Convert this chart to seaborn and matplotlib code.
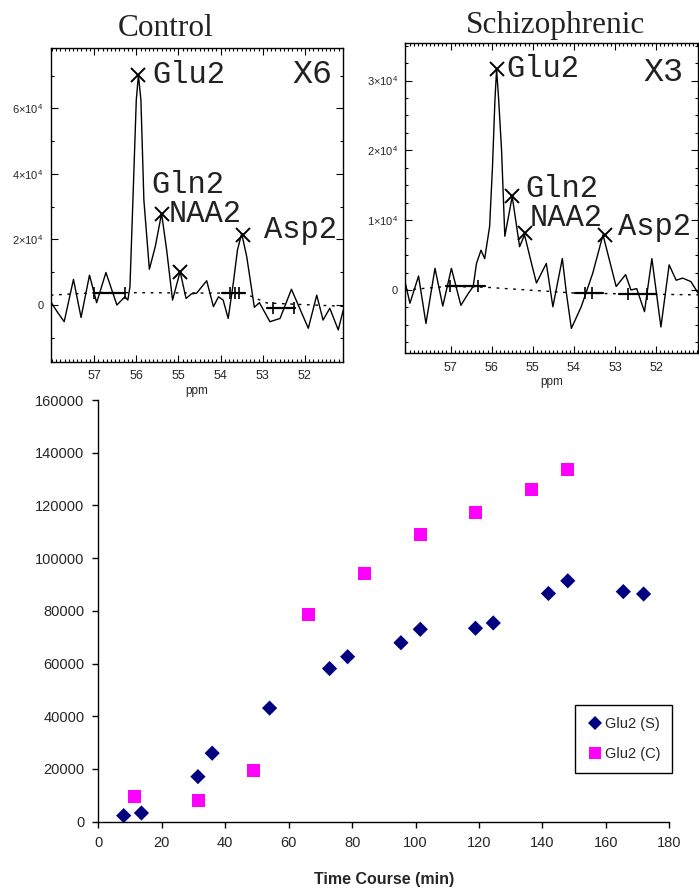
import numpy as np
import pandas as pd
import matplotlib
matplotlib.use("Agg")
import matplotlib.pyplot as plt
import seaborn as sns
from matplotlib.ticker import MultipleLocator

# ── Time course of Glu2 ──
time_s = [8.0, 13.6, 31.4, 35.9, 54.0, 72.9, 78.6, 95.4, 101.5, 118.9, 124.5, 141.9, 148.0, 165.5, 171.9]
glu2_s = [2300, 3300, 17100, 26000, 43100, 58100, 62600, 67900, 73000, 73400, 75400, 86600, 91400, 87300, 86400]
time_c = [11.5, 31.5, 49.0, 66.4, 84.0, 101.5, 119.0, 136.5, 148.0]
glu2_c = [9600, 7900, 19600, 78700, 94100, 108900, 117400, 126200, 133700]

# ── Control spectrum (traced) ──
ppm_ctrl = [58.03, 57.88, 57.71, 57.49, 57.31, 57.11, 56.94, 56.72, 56.46, 56.27, 56.20, 56.15,
            56.08, 56.00, 55.95, 55.89, 55.82, 55.69, 55.55, 55.40, 55.28, 55.14, 54.96, 54.82,
            54.69, 54.57, 54.33, 54.17, 54.05, 53.94, 53.82, 53.70, 53.60, 53.50, 53.38, 53.20,
            53.08, 52.83, 52.59, 52.32, 51.92, 51.72, 51.57, 51.41, 51.21, 51.09]
int_ctrl = [1000, -2000, -5100, 7800, -3800, 9100, 700, 9900, 0, 2500, 1500, 5600,
            32000, 62500, 70100, 62500, 32000, 10900, 17800, 27900, 16800, 1500, 10200, 2000,
            3400, 3600, 7400, -500, 2500, 1500, -4100, 6600, 16800, 21800, 14700, -700,
            700, -5100, -4100, 4800, -7100, 3000, -4600, -1000, -7600, -1500]
ctrl_peak_ppm = [55.95, 55.40, 54.96, 53.48]
ctrl_peak_int = [70100, 27900, 10200, 21500]
ctrl_base_ppm = [58.03, 56.9, 53.45, 52.9, 51.09]
ctrl_base_int = [3000, 3800, 3600, 600, -400]
ctrl_bar_from = [57.0, 53.97, 52.91]
ctrl_bar_to = [56.27, 53.42, 52.24]
ctrl_bar_lvl = [3800, 3600, -1000]
ctrl_bar_ticks = [[57.0, 56.27], [53.78, 53.66, 53.56], [52.75, 52.26]]

# ── Schizophrenic spectrum (traced) ──
ppm_schz = [58.11, 57.99, 57.78, 57.60, 57.38, 57.19, 56.98, 56.75, 56.57, 56.45, 56.37, 56.26,
            56.17, 56.05, 55.98, 55.92, 55.88, 55.83, 55.76, 55.68, 55.50, 55.32, 55.20, 55.03,
            54.91, 54.67, 54.51, 54.28, 54.18, 54.06, 53.82, 53.54, 53.29, 52.97, 52.74, 52.61,
            52.47, 52.28, 52.10, 51.88, 51.68, 51.51, 51.35, 51.15, 50.97]
int_schz = [1200, -1900, 2000, -4800, 3100, -2300, 3100, -2200, -500, 500, 3800, 5700,
            4500, 9100, 17700, 27300, 31600, 27300, 20100, 7700, 13400, 6200, 7900, 3800,
            1000, 3800, -2400, 4500, -500, -5500, -2400, 2400, 7900, 500, 2200, 0,
            200, -3100, 4500, -5300, 3600, 1400, 1700, 1200, -500]
schz_peak_ppm = [55.88, 55.50, 55.20, 53.25]
schz_peak_int = [31600, 13400, 8100, 7900]
schz_base_ppm = [58.11, 57.1, 56.17, 53.96, 50.97]
schz_base_int = [0, 500, 400, -450, -700]
schz_bar_from = [57.10, 53.96, 52.91]
schz_bar_to = [56.17, 53.29, 52.00]
schz_bar_lvl = [500, -400, -600]
schz_bar_ticks = [[57.02, 56.33], [53.74, 53.56], [52.69, 52.22]]

sns.set_theme(style="white")
plt.rcParams["font.family"] = ["Liberation Sans", "DejaVu Sans"]
plt.rcParams["mathtext.fontset"] = "custom"
plt.rcParams["mathtext.rm"] = "Liberation Sans"
plt.rcParams["mathtext.it"] = "Liberation Sans:italic"

fig = plt.figure(figsize=(6.99, 8.90), dpi=100)
W, H = 699, 890


def px_axes(x0, y0, x1, y1):
    return fig.add_axes([x0 / W, 1 - y1 / H, (x1 - x0) / W, (y1 - y0) / H])


def spectrum(ax, ppm, inten, xlim, ylim, yticks, ylabels, yminor,
             base_ppm, base_int, bar_from, bar_to, bar_lvl, bar_ticks,
             peak_ppm, peak_int):
    sns.lineplot(x=ppm, y=inten, ax=ax, color="black", lw=1.0, estimator=None)
    ax.plot(base_ppm, base_int, color="black", lw=1.0, ls=(0, (2, 4)))
    for a, b, lv, tk in zip(bar_from, bar_to, bar_lvl, bar_ticks):
        ax.plot([a, b], [lv, lv], color="black", lw=1.6)
        ax.plot(tk, [lv] * len(tk), ls="none", marker="|", ms=9, mew=1.2, color="black")
    ax.plot(peak_ppm, peak_int, ls="none", marker="x", ms=10, mew=1.4, color="black")
    ax.set_xlim(*xlim)
    ax.set_ylim(*ylim)
    ax.set_xticks([57, 56, 55, 54, 53, 52])
    ax.xaxis.set_minor_locator(MultipleLocator(0.1))
    ax.set_yticks(yticks)
    ax.set_yticklabels(ylabels)
    ax.yaxis.set_minor_locator(MultipleLocator(yminor))
    ax.tick_params(which="both", direction="in", top=True, right=True,
                   bottom=True, left=True, color="black", width=0.8)
    ax.tick_params(which="major", length=5, labelsize=9, pad=6)
    ax.tick_params(which="minor", length=2.5)
    ax.tick_params(axis="y", labelsize=8, pad=5)
    for s in ax.spines.values():
        s.set_visible(True)
        s.set_color("black")
        s.set_linewidth(1.0)
    ax.set_xlabel("ppm", fontsize=8.5, labelpad=2)
    ax.set_ylabel("")


mono = ["Liberation Mono", "DejaVu Sans Mono"]
serif = ["Liberation Serif", "DejaVu Serif"]

# ── Control panel ──
ax1 = px_axes(50.7, 48.3, 343.3, 361.7)
spectrum(ax1, ppm_ctrl, int_ctrl, (58.03, 51.09), (-17300, 78300),
         [0, 20000, 40000, 60000],
         ["0", r"$2{\times}10^4$", r"$4{\times}10^4$", r"$6{\times}10^4$"], 10000,
         ctrl_base_ppm, ctrl_base_int, ctrl_bar_from, ctrl_bar_to, ctrl_bar_lvl,
         ctrl_bar_ticks, ctrl_peak_ppm, ctrl_peak_int)
ctrl_offsets = {"Glu2": (0, 14, 0), "Gln2": (1, -10, 29), "NAA2": (1, 7, 0), "Asp2": (3, 21, 5)}
for name, (i, dx, dy) in ctrl_offsets.items():
    ax1.annotate(name, (ctrl_peak_ppm[i], ctrl_peak_int[i]), xytext=(dx, dy),
                 textcoords="offset pixels", ha="left", va="center",
                 fontsize=22, family=mono, color="#222222")
ax1.text(0.962, 0.915, "X6", transform=ax1.transAxes, ha="right", va="center",
         fontsize=24, family=mono, color="#222222")
fig.text(165.7 / W, 1 - 28 / H, "Control", ha="center", va="center",
         fontsize=22.5, family=serif, color="#222222")

# ── Schizophrenic panel ──
ax2 = px_axes(405, 43.3, 698.3, 353.3)
spectrum(ax2, ppm_schz, int_schz, (58.11, 50.97), (-9070, 35340),
         [0, 10000, 20000, 30000],
         ["0", r"$1{\times}10^4$", r"$2{\times}10^4$", r"$3{\times}10^4$"], 2500,
         schz_base_ppm, schz_base_int, schz_bar_from, schz_bar_to, schz_bar_lvl,
         schz_bar_ticks, schz_peak_ppm, schz_peak_int)
schz_offsets = {"Glu2": (0, 10, 0), "Gln2": (1, 13, 7), "NAA2": (2, 5, 15), "Asp2": (3, 13, 8)}
for name, (i, dx, dy) in schz_offsets.items():
    ax2.annotate(name, (schz_peak_ppm[i], schz_peak_int[i]), xytext=(dx, dy),
                 textcoords="offset pixels", ha="left", va="center",
                 fontsize=22, family=mono, color="#222222")
ax2.text(0.95, 0.907, "X3", transform=ax2.transAxes, ha="right", va="center",
         fontsize=24, family=mono, color="#222222")
fig.text(555.8 / W, 1 - 25 / H, "Schizophrenic", ha="center", va="center",
         fontsize=22.5, family=serif, color="#222222")

# ── Time course scatter ──
df = pd.DataFrame({
    "time": time_s + time_c,
    "value": glu2_s + glu2_c,
    "series": ["Glu2 (S)"] * len(time_s) + ["Glu2 (C)"] * len(time_c),
})
ax3 = px_axes(98.3, 400, 669.3, 821.7)
sns.scatterplot(data=df, x="time", y="value", hue="series", style="series", size="series",
                palette={"Glu2 (S)": "#000080", "Glu2 (C)": "#FF00FF"},
                markers={"Glu2 (S)": "D", "Glu2 (C)": "s"},
                sizes={"Glu2 (S)": 60, "Glu2 (C)": 88}, linewidth=0, ax=ax3)
ax3.set_xlim(0, 180)
ax3.set_ylim(0, 160000)
ax3.set_xticks(np.arange(0, 181, 20))
ax3.set_yticks(np.arange(0, 160001, 20000))
for s in ["top", "right"]:
    ax3.spines[s].set_visible(False)
for s in ["left", "bottom"]:
    ax3.spines[s].set_color("black")
    ax3.spines[s].set_linewidth(1.0)
ax3.tick_params(direction="out", length=4, width=1, color="black",
                labelsize=10.5, left=True, bottom=True, pad=6)
ax3.set_ylabel("")
ax3.set_xlabel("Time Course (min)", fontsize=11.5, fontweight="bold", labelpad=16)
ax3.patch.set_alpha(0)

leg = ax3.legend(loc="upper left", bbox_to_anchor=(575 / W, 1 - 705 / H),
                 bbox_transform=fig.transFigure, frameon=True, fancybox=False,
                 edgecolor="black", framealpha=1, fontsize=10.5, handletextpad=0.05,
                 labelspacing=1.15, borderpad=0.8, handlelength=1.2, borderaxespad=0,
                 markerscale=0.9)
leg.get_frame().set_linewidth(1.0)

fig.savefig("out.png", dpi=100)
